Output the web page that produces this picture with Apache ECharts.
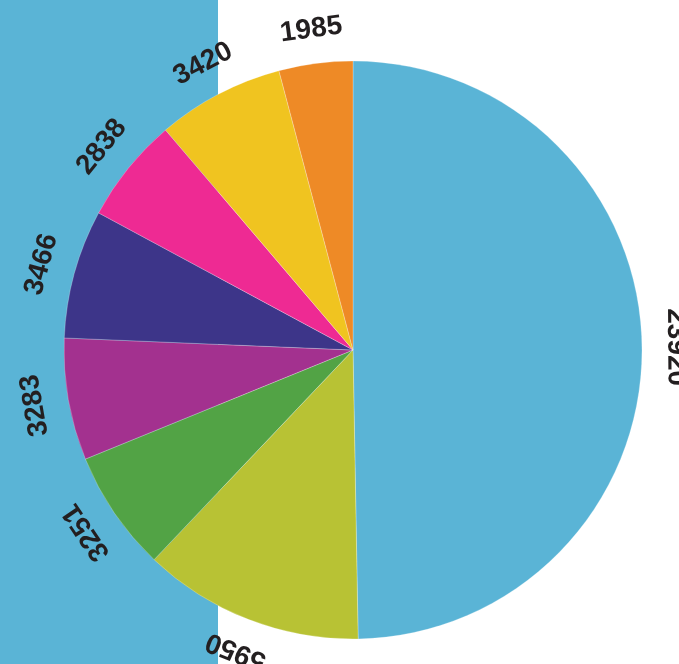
<!DOCTYPE html>
<html>
<head>
<meta charset="utf-8">
<script src="https://cdn.jsdelivr.net/npm/echarts@6/dist/echarts.min.js"></script>
<style>
html,body{margin:0;padding:0;background:#fff;}
#chart{width:679px;height:664px;}
</style>
</head>
<body>
<div id="chart"></div>
<script>
const values = [23920, 5950, 3251, 3283, 3466, 2838, 3420, 1985];
const labels = ['23920', '5950', '3251', '3283', '3466', '2838', '3420', '1985'];
const colors = ['#5ab4d6', '#b8c234', '#52a345', '#a3318f', '#3d3589', '#ee2a93', '#f0c420', '#ee8a26'];

const total = values.reduce((a, b) => a + b, 0);
let cum = 0;
const rotations = values.map(v => {
  const mid = (cum + v / 2) / total * 360;
  cum += v;
  return -mid;
});

const chart = echarts.init(document.getElementById('chart'));
chart.setOption({
  animation: false,
  graphic: [{
    type: 'rect',
    z: -10,
    shape: { x: 0, y: 0, width: 218, height: 664 },
    style: { fill: '#5ab4d6' },
    silent: true
  }],
  series: [
    {
      type: 'pie',
      center: [353, 350],
      radius: [0, 289],
      startAngle: 90,
      clockwise: true,
      silent: true,
      label: { show: false },
      labelLine: { show: false },
      itemStyle: { borderColor: 'rgba(255,255,255,0.5)', borderWidth: 0.5 },
      data: values.map((v, i) => ({ value: v, name: labels[i], itemStyle: { color: colors[i] } }))
    },
    {
      type: 'pie',
      center: [353, 350],
      radius: [306, 334],
      startAngle: 90,
      clockwise: true,
      silent: true,
      itemStyle: { color: 'rgba(0,0,0,0)' },
      labelLine: { show: false },
      data: values.map((v, i) => ({
        value: v,
        name: labels[i],
        label: {
          show: true,
          position: 'inside',
          rotate: rotations[i],
          formatter: labels[i],
          color: '#231f20',
          fontSize: 28,
          fontWeight: 'bold',
          fontFamily: '"Liberation Sans", Arial, sans-serif'
        }
      }))
    }
  ]
});
</script>
</body>
</html>
